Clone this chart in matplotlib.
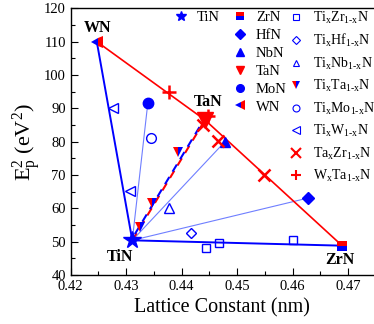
import matplotlib
matplotlib.use("Agg")
import matplotlib.pyplot as plt
import matplotlib.transforms as mtransforms
from matplotlib.lines import Line2D

plt.rcParams['font.family'] = ['Liberation Serif', 'DejaVu Serif']
plt.rcParams['mathtext.fontset'] = 'custom'
plt.rcParams['mathtext.rm'] = 'Liberation Serif'
plt.rcParams['mathtext.it'] = 'Liberation Serif:italic'
plt.rcParams['mathtext.bf'] = 'Liberation Serif:bold'

# binary nitrides (lattice constant nm, Ep^2 eV^2)
tin = (0.4311, 50.4)
zrn = (0.4689, 48.8)
hfn = (0.4628, 63.1)
nbn = (0.4478, 80.0)
tan_ = (0.4442, 86.5)
mon = (0.4339, 91.6)
wn = (0.4247, 110.0)

# ternary alloys
tizr_x = [0.4444, 0.4467, 0.4601]
tizr_y = [48.1, 49.6, 50.5]
tihf_x = [0.4417]
tihf_y = [52.6]
tinb_x = [0.4377]
tinb_y = [60.1]
tita_x = [0.4325, 0.4347, 0.4393]
tita_y = [54.4, 61.6, 76.9]
timo_x = [0.4345]
timo_y = [81.1]
tiw_x = [0.4276, 0.4307]
tiw_y = [90.1, 65.2]
tazr_x = [0.4438, 0.4465, 0.4548]
tazr_y = [85.0, 80.2, 70.0]
wta_x = [0.4377, 0.4447]
wta_y = [94.9, 87.7]

B = '#0000ff'
R = '#ff0000'
LB = '#6f7fff'

fig = plt.figure(figsize=(3.74, 3.24), dpi=100)
ax = fig.add_axes([0.189, 0.1512, 0.811, 0.8233])

# tie lines
ax.plot([tin[0], wn[0]], [tin[1], wn[1]], color=B, lw=1.4, zorder=2)
ax.plot([tin[0], zrn[0]], [tin[1], zrn[1]], color=B, lw=1.4, zorder=2)
for end in (mon, nbn, hfn):
    ax.plot([tin[0], end[0]], [tin[1], end[1]], color=LB, lw=0.8, zorder=2)
ax.plot([wn[0], tan_[0], zrn[0]], [wn[1], tan_[1], zrn[1]], color=R, lw=1.2, zorder=2)
shift = mtransforms.offset_copy(ax.transData, fig=fig, x=-1.2, y=0, units='dots')
ax.plot([tin[0], tan_[0]], [tin[1], tan_[1]], color=R, lw=1.5, ls=(0, (4, 3)), zorder=2)
ax.plot([tin[0], tan_[0]], [tin[1], tan_[1]], color=B, lw=1.5, ls=(3.5, (4, 3)),
        transform=shift, zorder=2)

# binary markers
ax.plot(*tin, marker='*', color=B, ms=13, ls='none', zorder=4)
ax.plot(*zrn, marker='s', ms=7, fillstyle='top', markerfacecolor=R,
        markerfacecoloralt=B, markeredgewidth=0, ls='none', zorder=4)
ax.plot(*hfn, marker='D', color=B, ms=6.5, ls='none', zorder=4)
ax.plot(*nbn, marker='^', color=B, ms=7, ls='none', zorder=3)
ax.plot(*tan_, marker='v', color=R, ms=12, ls='none', zorder=4)
ax.plot(*mon, marker='o', color=B, ms=7.5, ls='none', zorder=4)
ax.plot(*wn, marker='<', ms=9, fillstyle='left', markerfacecolor=B,
        markerfacecoloralt=R, markeredgewidth=0, ls='none', zorder=4)

# alloy markers
ax.plot(tizr_x, tizr_y, marker='s', mfc='none', mec=B, mew=1, ms=6, ls='none', zorder=4)
ax.plot(tihf_x, tihf_y, marker='D', mfc='none', mec=B, mew=1, ms=5.5, ls='none', zorder=4)
ax.plot(tinb_x, tinb_y, marker='^', mfc='none', mec=B, mew=1, ms=6.5, ls='none', zorder=4)
ax.plot(tita_x, tita_y, marker='v', ms=7.5, fillstyle='left', markerfacecolor=R,
        markerfacecoloralt=B, markeredgewidth=0, ls='none', zorder=4)
ax.plot(timo_x, timo_y, marker='o', mfc='none', mec=B, mew=1, ms=7, ls='none', zorder=4)
ax.plot(tiw_x, tiw_y, marker='<', mfc='none', mec=B, mew=1, ms=7, ls='none', zorder=4)
ax.plot(tazr_x, tazr_y, marker='x', color=R, mew=1.8, ms=8, ls='none', zorder=5)
ax.plot(wta_x, wta_y, marker='+', color=R, mew=1.8, ms=10, ls='none', zorder=5)

# compound labels
lab = dict(fontsize=11.5, fontweight='bold', ha='center', va='center')
ax.text(0.4249, 114.1, 'WN', **lab)
ax.text(0.4447, 92.0, 'TaN', **lab)
ax.text(0.4289, 45.4, 'TiN', **lab)
ax.text(0.4685, 44.5, 'ZrN', **lab)

ax.set_xlim(0.42, 0.47465)
ax.set_ylim(40, 120)
ax.set_xticks([0.42, 0.43, 0.44, 0.45, 0.46, 0.47])
ax.set_xticks([0.425, 0.435, 0.445, 0.455, 0.465], minor=True)
ax.set_yticks(range(40, 121, 10))
ax.set_yticks(range(45, 120, 10), minor=True)
ax.tick_params(direction='in', labelsize=10.5, length=5, width=0.8)
ax.tick_params(axis='x', pad=3.5)
ax.tick_params(axis='y', pad=3.5)
ax.tick_params(which='minor', direction='in', length=3, width=0.8)
ax.spines['right'].set_visible(False)
for s in ('left', 'bottom', 'top'):
    ax.spines[s].set_linewidth(1.0)

ax.set_xlabel('Lattice Constant (nm)', fontsize=14.5, labelpad=4)
ax.set_ylabel(r'E$_\mathrm{p}^\mathrm{2}$ (eV$^\mathrm{2}$)', fontsize=16, labelpad=1)


def handle(**kw):
    return Line2D([], [], ls='none', **kw)


leg_kw = dict(frameon=False, fontsize=10.5, borderpad=0, handlelength=1.0,
              handletextpad=0.6, borderaxespad=0, loc='upper left',
              bbox_transform=fig.transFigure)

h_a = [handle(marker='*', color=B, ms=7)]
leg_a = fig.legend(h_a, ['TiN'], bbox_to_anchor=(173.5 / 374, 1 - 11 / 324), **leg_kw)

h_b = [
    handle(marker='s', ms=5.5, fillstyle='top', markerfacecolor=R,
           markerfacecoloralt=B, markeredgewidth=0),
    handle(marker='D', color=B, ms=5),
    handle(marker='^', color=B, ms=6),
    handle(marker='v', color=R, ms=6),
    handle(marker='o', color=B, ms=5.5),
    handle(marker='<', ms=6.5, fillstyle='left', markerfacecolor=B,
           markerfacecoloralt=R, markeredgewidth=0),
]
leg_b = fig.legend(h_b, ['ZrN', 'HfN', 'NbN', 'TaN', 'MoN', 'WN'],
                   bbox_to_anchor=(232.5 / 374, 1 - 11 / 324), labelspacing=0.32, **leg_kw)

h_c = [
    handle(marker='s', mfc='none', mec=B, mew=0.8, ms=4.5),
    handle(marker='D', mfc='none', mec=B, mew=0.8, ms=4.5),
    handle(marker='^', mfc='none', mec=B, mew=0.8, ms=5),
    handle(marker='v', ms=6, fillstyle='left', markerfacecolor=R,
           markerfacecoloralt=B, markeredgewidth=0),
    handle(marker='o', mfc='none', mec=B, mew=0.8, ms=5),
    handle(marker='<', mfc='none', mec=B, mew=0.8, ms=5.5),
    handle(marker='x', color=R, mew=1.5, ms=6.5),
    handle(marker='+', color=R, mew=1.5, ms=7),
]
labels_c = [r'Ti$_\text{x}$Zr$_\text{1-x}$N', r'Ti$_\text{x}$Hf$_\text{1-x}$N',
            r'Ti$_\text{x}$Nb$_\text{1-x}$N', r'Ti$_\text{x}$Ta$_\text{1-x}$N',
            r'Ti$_\text{x}$Mo$_\text{1-x}$N', r'Ti$_\text{x}$W$_\text{1-x}$N',
            r'Ta$_\text{x}$Zr$_\text{1-x}$N', r'W$_\text{x}$Ta$_\text{1-x}$N']
leg_c = fig.legend(h_c, labels_c, bbox_to_anchor=(289.5 / 374, 1 - 9.5 / 324),
                   labelspacing=0.46, prop={'size': 10}, frameon=False, borderpad=0,
                   handlelength=1.0, handletextpad=0.7, borderaxespad=0, loc='upper left',
                   bbox_transform=fig.transFigure)

fig.savefig('out.png', dpi=100)
